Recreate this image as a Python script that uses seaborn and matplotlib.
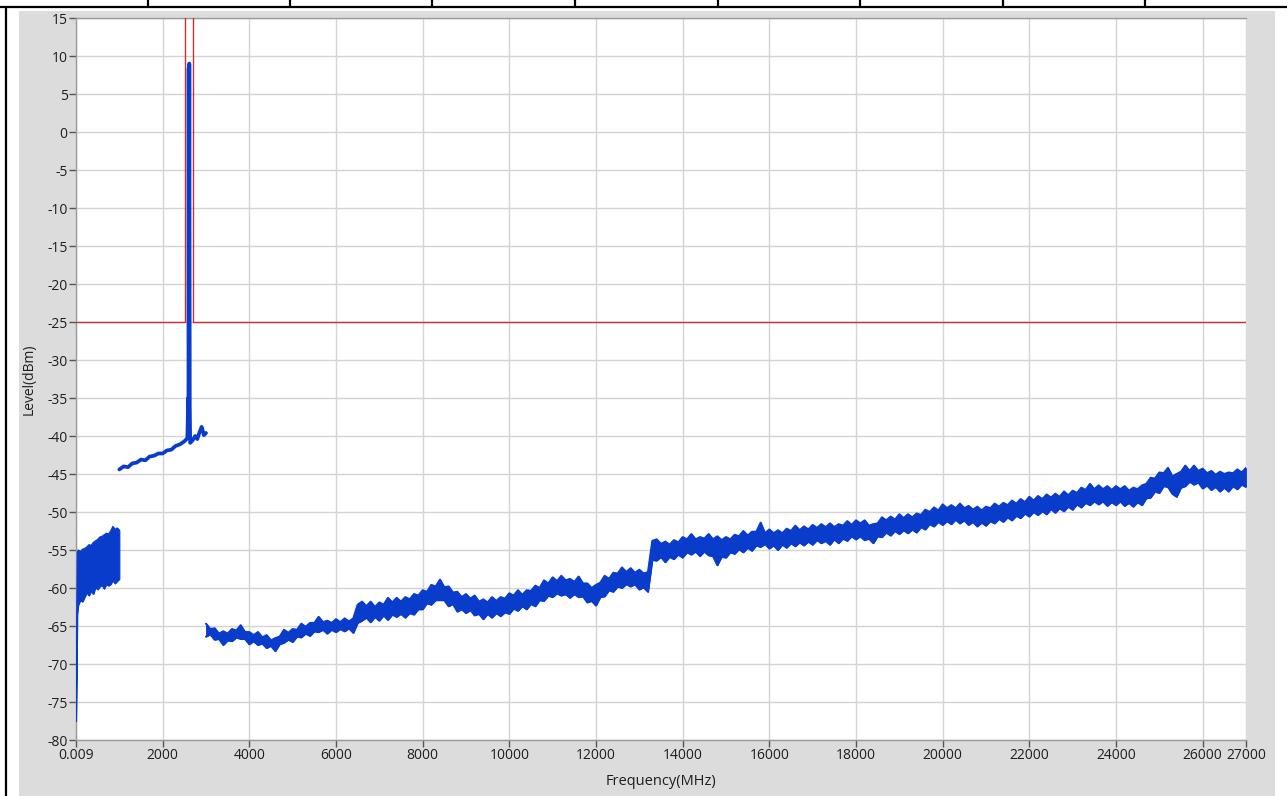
import matplotlib
matplotlib.use("Agg")
import matplotlib.pyplot as plt
from matplotlib.lines import Line2D
from matplotlib.patches import Rectangle
import seaborn as sns

# ---- data ----
# segment 1: 9 kHz - 1 GHz (upper / lower edge of the noisy trace)
freq1 = [0.009, 30, 50, 100, 150, 200, 250, 300, 350, 400, 450, 500, 550,
         600, 650, 700, 750, 800, 850, 900, 950, 1000]
hi1 = [-77.5, -55.3, -55.0, -55.2, -54.9, -54.8, -54.6, -54.3, -54.4, -54.0,
       -53.8, -53.6, -53.3, -53.2, -53.0, -52.8, -52.9, -52.5, -51.9, -52.3,
       -52.1, -52.4]
lo1 = [-77.5, -63.5, -62.3, -61.6, -61.8, -61.2, -60.6, -61.0, -60.4, -60.8,
       -59.9, -60.2, -59.8, -59.6, -60.1, -59.5, -59.7, -59.5, -59.0, -59.4,
       -59.1, -58.8]

# segment 2: 1 GHz - 3 GHz, with the carrier near 2.6 GHz
freq2 = [1000, 1100, 1200, 1300, 1400, 1500, 1600, 1700, 1800, 1900, 2000,
         2100, 2200, 2300, 2400, 2500, 2570, 2590, 2595, 2600, 2605, 2615,
         2625, 2635, 2700, 2750, 2800, 2850, 2900, 2950, 3000]
level2 = [-44.4, -44.0, -44.1, -43.6, -43.5, -43.1, -43.2, -42.7, -42.6,
          -42.3, -42.3, -41.9, -41.8, -41.3, -41.1, -40.7, -40.3, -35.0,
          -36.8, 8.4, -30.0, 9.0, -36.0, -40.9, -40.5, -40.0, -40.4, -39.5,
          -38.8, -39.9, -39.6]

# segment 3: 3 GHz - 27 GHz, every 100 MHz (upper / lower edge)
freq3 = list(range(3000, 27001, 100))
hi3 = [-64.7, -65.4, -65.3, -66.0, -65.7, -66.0, -65.4, -65.6, -64.9, -65.8,
       -65.8, -66.2, -65.8, -66.5, -66.2, -66.9, -66.6, -66.4, -65.5, -65.9,
       -65.4, -65.5, -64.7, -65.1, -64.6, -64.6, -63.8, -64.5, -64.3, -64.6,
       -64.1, -64.5, -64.0, -64.4, -64.0, -62.2, -61.8, -62.4, -61.8, -62.5,
       -61.9, -62.2, -61.3, -61.9, -61.3, -61.8, -61.2, -61.5, -60.8, -61.0,
       -60.3, -60.5, -59.6, -59.8, -58.9, -59.9, -59.8, -60.6, -60.5, -61.2,
       -60.8, -61.4, -61.0, -61.8, -61.5, -61.9, -61.2, -61.7, -61.2, -61.4,
       -60.7, -61.0, -60.3, -60.9, -60.3, -60.4, -59.7, -60.0, -59.0, -59.4,
       -58.6, -59.1, -58.4, -59.0, -58.8, -59.2, -58.5, -59.4, -59.4, -60.0,
       -59.6, -59.3, -58.4, -58.8, -58.0, -58.1, -57.3, -57.9, -57.4, -58.0,
       -57.6, -58.1, -57.9, -53.8, -53.6, -54.2, -53.9, -54.3, -53.7, -54.0,
       -53.3, -53.6, -52.9, -53.6, -53.3, -53.5, -52.9, -53.6, -53.2, -53.7,
       -53.3, -53.6, -53.0, -53.2, -52.5, -53.1, -52.6, -52.6, -51.4, -52.8,
       -52.3, -52.8, -52.4, -52.8, -52.2, -52.5, -51.8, -52.4, -51.9, -52.3,
       -51.7, -52.1, -51.6, -52.0, -51.5, -52.0, -51.6, -51.8, -51.2, -51.7,
       -51.1, -51.5, -51.1, -51.8, -51.6, -51.5, -50.7, -51.1, -50.6, -51.0,
       -50.3, -50.8, -50.3, -50.7, -50.2, -50.4, -49.7, -50.0, -49.4, -49.8,
       -49.0, -49.5, -49.1, -49.5, -48.9, -49.5, -49.2, -49.7, -49.3, -49.8,
       -49.3, -49.5, -48.9, -49.3, -48.8, -49.1, -48.5, -48.9, -48.3, -48.7,
       -48.0, -48.5, -47.9, -48.3, -47.7, -48.1, -47.6, -48.0, -47.3, -47.8,
       -47.2, -47.5, -46.8, -47.1, -46.3, -47.0, -46.5, -47.0, -46.6, -47.1,
       -46.6, -47.0, -46.6, -47.2, -46.8, -47.0, -46.5, -46.3, -45.5, -45.6,
       -44.8, -44.9, -44.2, -45.3, -45.0, -44.7, -43.9, -44.6, -43.9, -44.6,
       -44.3, -44.9, -44.6, -45.1, -44.7, -45.0, -44.8, -44.9, -44.4, -44.8,
       -44.2]
lo3 = [-66.4, -66.1, -66.8, -66.7, -67.5, -66.9, -67.0, -66.5, -66.7, -66.7,
       -67.4, -67.0, -67.5, -67.3, -67.9, -67.6, -68.3, -67.4, -67.2, -66.8,
       -67.1, -66.4, -66.5, -66.0, -66.3, -65.7, -65.8, -65.5, -66.0, -65.5,
       -65.8, -65.4, -65.7, -65.3, -65.9, -64.6, -64.3, -63.9, -64.5, -63.8,
       -64.3, -63.6, -64.2, -63.5, -63.8, -63.4, -63.9, -63.3, -63.5, -62.8,
       -62.8, -62.0, -62.2, -61.6, -61.6, -61.6, -62.4, -62.1, -63.1, -62.8,
       -63.3, -62.9, -63.6, -63.4, -64.1, -63.4, -63.9, -63.3, -63.7, -63.2,
       -63.4, -62.7, -63.0, -62.4, -62.8, -62.1, -62.4, -61.6, -61.7, -61.0,
       -61.2, -60.7, -61.0, -60.8, -61.3, -60.8, -61.2, -61.1, -61.9, -61.7,
       -62.3, -61.2, -61.1, -60.3, -60.5, -59.8, -60.0, -59.5, -59.8, -59.5,
       -60.2, -59.9, -60.5, -56.3, -56.4, -55.9, -56.6, -55.9, -56.2, -55.6,
       -56.0, -55.3, -55.6, -55.2, -55.8, -55.2, -55.7, -55.8, -57.0, -55.9,
       -56.0, -55.3, -55.5, -54.9, -55.3, -54.7, -55.1, -54.4, -54.6, -54.2,
       -54.8, -54.4, -55.0, -54.3, -54.7, -54.1, -54.5, -54.0, -54.4, -53.9,
       -54.3, -53.7, -54.1, -53.8, -54.3, -53.6, -54.1, -53.5, -53.8, -53.2,
       -53.6, -53.2, -53.7, -53.5, -54.1, -53.2, -53.3, -52.7, -53.1, -52.5,
       -52.9, -52.4, -52.8, -52.3, -52.7, -52.0, -52.3, -51.6, -51.9, -51.3,
       -51.7, -51.2, -51.6, -51.0, -51.5, -51.1, -51.7, -51.3, -51.9, -51.4,
       -51.8, -51.2, -51.5, -50.9, -51.3, -50.7, -51.1, -50.5, -50.8, -50.2,
       -50.6, -50.0, -50.4, -49.9, -50.3, -49.6, -50.1, -49.5, -49.9, -49.3,
       -49.7, -49.0, -49.4, -48.8, -49.1, -48.6, -49.0, -48.6, -49.2, -48.7,
       -49.1, -48.6, -49.2, -48.8, -49.3, -48.7, -49.1, -48.2, -48.1, -47.3,
       -47.5, -46.6, -46.7, -47.6, -48.0, -46.8, -46.6, -46.0, -46.4, -46.1,
       -46.9, -46.5, -47.1, -46.7, -47.3, -46.8, -47.3, -46.6, -47.0, -46.4,
       -46.7]

# limit line: -25 dBm, raised inside the carrier band
limit_freq = [0.009, 2515, 2515, 2707, 2707, 27000]
limit_level = [-25, -25, 100, 100, -25, -25]

xticks = [0.009, 2000, 4000, 6000, 8000, 10000, 12000, 14000, 16000, 18000,
          20000, 22000, 24000, 26000, 27000]
xtick_labels = ["0.009", "2000", "4000", "6000", "8000", "10000", "12000",
                "14000", "16000", "18000", "20000", "22000", "24000", "26000",
                "27000"]
yticks = list(range(-80, 16, 5))

BLUE = "#0a3ccc"
RED = "#cc3030"
TEXT = "#1e1e1e"

sns.set_style("white")
plt.rcParams["font.family"] = ["Open Sans", "DejaVu Sans"]
plt.rcParams["axes.unicode_minus"] = False

W, H = 1287, 796
fig = plt.figure(figsize=(W / 100, H / 100), dpi=100, facecolor="white")

# window chrome around the plot
fig.add_artist(Rectangle((19 / W, 0), (1275 - 19) / W, (H - 11) / H,
                         transform=fig.transFigure, facecolor="#dcdcdc",
                         edgecolor="none", zorder=0))
fig.add_artist(Line2D([0, 1], [1 - 7 / H, 1 - 7 / H], transform=fig.transFigure,
                      color="black", lw=1.6))
fig.add_artist(Line2D([6 / W, 6 / W], [0, 1 - 7 / H], transform=fig.transFigure,
                      color="black", lw=1.6))
for px in [148, 290, 432, 575, 718, 860, 1003, 1145]:
    fig.add_artist(Line2D([px / W, px / W], [1 - 7 / H, 1],
                          transform=fig.transFigure, color="black", lw=1.6))

ax = fig.add_axes([76 / W, 1 - 740 / H, (1246 - 76) / W, (740 - 18) / H])
ax.set_facecolor("white")

# measured trace
ax.fill_between(freq1, lo1, hi1, color=BLUE, lw=0.8, zorder=3)
ax.fill_between(freq3, lo3, hi3, color=BLUE, lw=0.6, zorder=3)
for f, y, w in [(freq1, hi1, 0.9), (freq1, lo1, 0.9),
                (freq3, hi3, 1.5), (freq3, lo3, 1.5)]:
    sns.lineplot(x=f, y=y, ax=ax, color=BLUE, lw=w, estimator=None,
                 sort=False, zorder=3)
sns.lineplot(x=freq2, y=level2, ax=ax, color=BLUE, lw=2.7, estimator=None,
             sort=False, zorder=3)

# limit line
sns.lineplot(x=limit_freq, y=limit_level, ax=ax, color=RED, lw=1.0,
             estimator=None, sort=False, zorder=4)

ax.set_xlim(0.009, 27000)
ax.set_ylim(-80, 15)
ax.set_xticks(xticks)
ax.set_xticklabels(xtick_labels)
ax.set_yticks(yticks)
ax.grid(True, color="#d4d4d4", lw=1.0)
ax.set_axisbelow(True)

for side in ["left", "bottom", "top"]:
    ax.spines[side].set_visible(True)
    ax.spines[side].set_color("#9a9a9a")
    ax.spines[side].set_linewidth(1.0)
ax.spines["right"].set_visible(False)

ax.tick_params(axis="y", direction="out", length=5, width=1, color="#555555",
               pad=1, labelsize=10, labelcolor=TEXT, left=True)
ax.tick_params(axis="x", direction="out", length=5, width=1, color="#555555",
               pad=0.5, labelsize=10, labelcolor=TEXT, bottom=True)

ax.set_xlabel("Frequency(MHz)", fontsize=10.5, color=TEXT, labelpad=8)
ax.set_ylabel("Level(dBm)", fontsize=10, color=TEXT, labelpad=8)

fig.savefig("out.png", dpi=100, facecolor=fig.get_facecolor())
